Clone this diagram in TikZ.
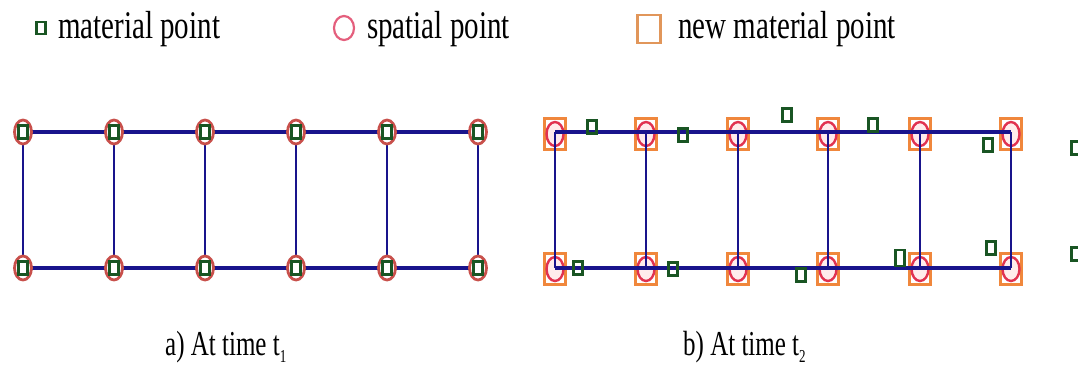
\documentclass[tikz,border=0pt]{standalone}
\usepackage{fontspec}
\setmainfont{Liberation Serif}
\usetikzlibrary{shapes.geometric}
\definecolor{gridline}{RGB}{25,20,140}
\definecolor{matgreen}{RGB}{25,85,35}
\definecolor{spred}{RGB}{225,50,80}
\definecolor{leftred}{RGB}{200,80,75}
\definecolor{legred}{RGB}{228,95,125}
\definecolor{neworange}{RGB}{240,135,60}
\definecolor{legorange}{RGB}{225,150,90}
\tikzset{
  gline/.style={draw=gridline,line width=3.2pt},
  matpt/.style={draw=matgreen,line width=2.3pt,inner sep=0pt,minimum width=9pt,minimum height=13pt},
  matptw/.style={matpt,fill=white},
  sptl/.style={ellipse,draw=leftred,line width=2.8pt,fill=white,inner sep=0pt,minimum width=17pt,minimum height=24pt},
  sptr/.style={ellipse,draw=spred,line width=2.4pt,fill=pink!30,inner sep=0pt,minimum width=17pt,minimum height=24pt},
  newpt/.style={draw=neworange,line width=2.8pt,fill=white,inner sep=0pt,minimum width=21pt,minimum height=31pt},
  legtext/.style={anchor=base west,inner sep=0pt,font=\fontsize{29}{30}\selectfont},
  captext/.style={anchor=base west,inner sep=0pt,font=\fontsize{25}{26}\selectfont}
}
\begin{document}
\begin{tikzpicture}[x=1pt,y=-1pt]
\useasboundingbox (0,0) rectangle (1078,389);
% legend
\node[matptw,minimum width=9pt,minimum height=12pt] (lm) at (41,28) {};
\node[legtext] (lmt) at (58,38) {\scalebox{1}[1.35]{material point}};
\node[ellipse,draw=legred,line width=2.2pt,inner sep=0pt,minimum width=20pt,minimum height=24pt] (ls) at (344,28) {};
\node[legtext] (lst) at (367,38) {\scalebox{1}[1.35]{spatial point}};
\node[draw=legorange,line width=2.6pt,inner sep=0pt,minimum width=23pt,minimum height=28pt] (ln) at (649,29) {};
\node[legtext] (lnt) at (678,38) {\scalebox{1}[1.35]{new material point}};
% left grid
\foreach \i/\x in {1/23,2/114,3/205,4/296,5/387,6/478}{
  \coordinate (at\i) at (\x,132);
  \coordinate (ab\i) at (\x,268);
}
\draw[gline] (at1) -- (at6);
\draw[gline] (ab1) -- (ab6);
\foreach \i in {1,...,6}{ \draw[gline,line width=2.7pt] (at\i) -- (ab\i); }
\foreach \i in {1,...,6}{
  \node[sptl] (sat\i) at (at\i) {};
  \node[matptw] (mat\i) at (at\i) {};
  \node[sptl] (sab\i) at (ab\i) {};
  \node[matptw] (mab\i) at (ab\i) {};
}
% right grid
\foreach \i/\x in {1/555,2/646,3/738,4/828,5/920,6/1011}{
  \node[newpt] (nt\i) at (\x,134) {};
  \node[sptr] (st\i) at (\x,134) {};
  \node[newpt] (nb\i) at (\x,269) {};
  \node[sptr] (sb\i) at (\x,269) {};
}
\foreach \i/\x in {1/555,2/646,3/738,4/828,5/920,6/1011}{
  \coordinate (bt\i) at (\x,132);
  \coordinate (bb\i) at (\x,268);
}
\draw[gline] (bt1) -- (bt6);
\draw[gline] (bb1) -- (bb6);
\foreach \i in {1,...,6}{ \draw[gline,line width=2.7pt] (bt\i) -- (bb\i); }
% displaced material points
\node[matpt] (m1) at (592,127) {};
\node[matpt] (m2) at (683,135) {};
\node[matpt] (m3) at (787,115) {};
\node[matpt] (m4) at (873,125) {};
\node[matpt] (m5) at (988,145) {};
\node[matpt] (m6) at (1076,148) {};
\node[matpt] (m7) at (578,268) {};
\node[matpt] (m8) at (673,269) {};
\node[matpt] (m9) at (801,275) {};
\node[matpt,minimum height=16pt] (m10) at (900,258) {};
\node[matpt] (m11) at (991,248) {};
\node[matpt] (m12) at (1076,254) {};
% captions
\node[captext] (ca) at (165,355) {\scalebox{1}[1.4]{a) At time t\raisebox{-0.22em}{\fontsize{13}{13}\selectfont 1}}};
\node[captext] (cb) at (683,355) {\scalebox{1}[1.4]{b) At time t\raisebox{-0.22em}{\fontsize{13}{13}\selectfont 2}}};
\end{tikzpicture}
\end{document}
